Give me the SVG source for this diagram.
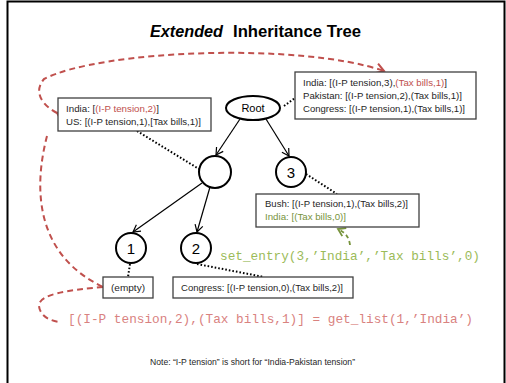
<svg xmlns="http://www.w3.org/2000/svg" width="506" height="383" viewBox="0 0 506 383">
<defs>
<marker id="ab" markerUnits="userSpaceOnUse" markerWidth="10" markerHeight="10" refX="7" refY="4" orient="auto" overflow="visible">
<path d="M0,0 L7,4 L0,8" fill="none" stroke="#000" stroke-width="1.2"/>
</marker>
<marker id="ar" markerUnits="userSpaceOnUse" markerWidth="12" markerHeight="12" refX="8" refY="5" orient="auto" overflow="visible">
<path d="M0,0 L8,5 L0,10" fill="none" stroke="#C0504D" stroke-width="2"/>
</marker>
<marker id="ag" markerUnits="userSpaceOnUse" markerWidth="12" markerHeight="12" refX="7" refY="4.5" orient="auto" overflow="visible">
<path d="M0,0 L7,4.5 L0,9" fill="none" stroke="#77933C" stroke-width="1.8"/>
</marker>
</defs>
<style>
.box{fill:#fff;stroke:#404040;stroke-width:1.3}
.circ{fill:#fff;stroke:#000;stroke-width:2}
.t{font-family:"Liberation Sans",Arial,sans-serif;font-size:9.5px;fill:#262626}
.red{fill:#C0504D}
.grn{fill:#77933C}
.num{font-family:"Liberation Sans",Arial,sans-serif;font-size:15px;fill:#000;text-anchor:middle}
.mono{font-family:"Liberation Mono","Courier New",monospace;font-size:12.7px}
.arrow{stroke:#000;stroke-width:1.2;fill:none;marker-end:url(#ab)}
.dot{stroke:#000;stroke-width:2;fill:none;stroke-dasharray:1.6 2}
.rdash{stroke:#C0504D;stroke-width:2;fill:none;stroke-dasharray:6 4}
</style>
<rect x="0" y="0" width="506" height="383" fill="#fff"/>
<rect x="7.5" y="1.5" width="497" height="400" fill="none" stroke="#000" stroke-width="2"/>
<g id="title">
<text x="150" y="37" font-family="Liberation Sans,Arial,sans-serif" font-size="17" font-weight="bold" font-style="italic" textLength="73" lengthAdjust="spacingAndGlyphs">Extended</text>
<text x="233" y="37" font-family="Liberation Sans,Arial,sans-serif" font-size="17" font-weight="bold" textLength="128" lengthAdjust="spacingAndGlyphs">Inheritance Tree</text>
</g>
<g id="connectors">
<path class="arrow" d="M240,119 L216,155"/>
<path class="arrow" d="M266,119 L289,156"/>
<path class="arrow" d="M202,183 L133,232"/>
<path class="arrow" d="M210,187 L197,232"/>
<path class="dot" d="M284,106 L295,98"/>
<path class="dot" d="M137,131 L199,169"/>
<path class="dot" d="M306,174 L337,194"/>
<path class="dot" d="M130,264 L128,277"/>
<path class="dot" d="M197,264 L264,277"/>
<path class="rdash" marker-start="url(#ar)" marker-end="url(#ar)" d="M57,113 C42,105 33,92 44,79 C100,50 300,42 384,71"/>
<path class="rdash" d="M47,136 C33,190 36,255 103,287"/>
<path class="rdash" d="M103,287 C70,290 38,294 39,306 C40,316 50,321 60,322"/>
<path stroke="#77933C" stroke-width="1.8" fill="none" stroke-dasharray="4 3" marker-end="url(#ag)" d="M350,245 C349,236 344,232 338,229"/>
</g>
<g id="root">
<ellipse class="circ" cx="253" cy="108" rx="27" ry="12"/>
<text x="253" y="112" font-family="Liberation Sans,Arial,sans-serif" font-size="11" text-anchor="middle" fill="#000">Root</text>
</g>
<g id="node-mid"><circle class="circ" cx="215" cy="172" r="16"/></g>
<g id="node-3"><circle class="circ" cx="291" cy="172" r="15"/><text class="num" x="291" y="177.5">3</text></g>
<g id="node-1"><circle class="circ" cx="131" cy="248" r="15"/><text class="num" x="131" y="253.5">1</text></g>
<g id="node-2"><circle class="circ" cx="196" cy="248" r="15"/><text class="num" x="196" y="253.5">2</text></g>
<g id="box-root">
<rect class="box" x="295" y="72" width="181" height="47"/>
<text class="t" x="303" y="86" textLength="144" lengthAdjust="spacingAndGlyphs">India: [(I-P tension,3),<tspan class="red">(Tax bills,1)</tspan>]</text>
<text class="t" x="303" y="99" textLength="159" lengthAdjust="spacingAndGlyphs">Pakistan: [(I-P tension,2),(Tax bills,1)]</text>
<text class="t" x="303" y="112" textLength="162" lengthAdjust="spacingAndGlyphs">Congress: [(I-P tension,1),(Tax bills,1)]</text>
</g>
<g id="box-mid">
<rect class="box" x="58" y="98" width="153" height="33"/>
<text class="t" x="66" y="112" textLength="93" lengthAdjust="spacingAndGlyphs">India: [<tspan class="red">(I-P tension,2)</tspan>]</text>
<text class="t" x="66" y="125" textLength="135" lengthAdjust="spacingAndGlyphs">US: [(I-P tension,1),[Tax bills,1)]</text>
</g>
<g id="box-3">
<rect class="box" x="256" y="194" width="163" height="33"/>
<text class="t" x="265" y="207" textLength="143" lengthAdjust="spacingAndGlyphs">Bush: [(I-P tension,1),(Tax bills,2)]</text>
<text class="t grn" x="265" y="220" textLength="81" lengthAdjust="spacingAndGlyphs">India: [(Tax bills,0)]</text>
</g>
<g id="box-1">
<rect class="box" x="103" y="277" width="50" height="21"/>
<text class="t" x="111" y="290.5" textLength="34" lengthAdjust="spacingAndGlyphs">(empty)</text>
</g>
<g id="box-2">
<rect class="box" x="173" y="277" width="180" height="21"/>
<text class="t" x="181" y="290.5" textLength="162" lengthAdjust="spacingAndGlyphs">Congress: [(I-P tension,0),(Tax bills,2)]</text>
</g>
<g id="code">
<text class="mono" x="220" y="260" fill="#9BBB59" textLength="260" lengthAdjust="spacingAndGlyphs">set_entry(3,’India’,’Tax bills’,0)</text>
<text class="mono" x="68" y="323" fill="#D9827F" textLength="405" lengthAdjust="spacingAndGlyphs">[(I-P tension,2),(Tax bills,1)] = get_list(1,’India’)</text>
</g>
<g id="note">
<text class="t" x="150" y="365" font-size="9" textLength="205" lengthAdjust="spacingAndGlyphs">Note: “I-P tension” is short for “India-Pakistan tension”</text>
</g>
</svg>
